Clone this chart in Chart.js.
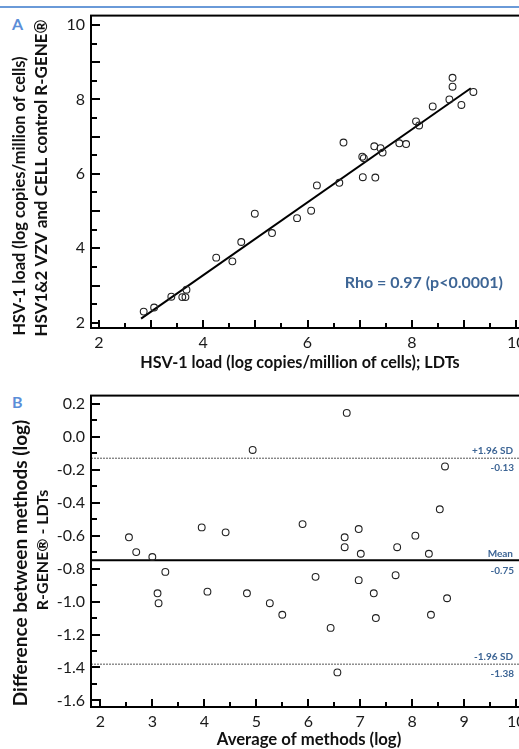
<!DOCTYPE html>
<html>
<head>
<meta charset="utf-8">
<script src="https://cdn.jsdelivr.net/npm/chart.js@4.4.1/dist/chart.umd.min.js"></script>
<style>
	html, body { margin: 0; padding: 0; background: #fff; }
	body { width: 519px; height: 749px; overflow: hidden; position: relative; font-family: Lato, sans-serif; }
	.rule { position: absolute; left: 0; top: 6px; width: 519px; height: 2px; background: #6a9ad8; }
	.panel-letter { position: absolute; left: 12px; font: bold 16px Lato, sans-serif; color: #5b8ed8; }
	canvas { position: absolute; left: 0; }
</style>
</head>
<body>
<div class="rule"></div>
<div class="panel-letter" style="top:14px">A</div>
<div class="panel-letter" style="top:392px">B</div>
<canvas id="chart-a" width="540" height="380" style="top:0"></canvas>
<canvas id="chart-b" width="540" height="369" style="top:380px"></canvas>
<script>
(function () {
	'use strict';

	// --- Data (panel A: correlation) ---

	const LDT_LOAD = [2.86, 3.06, 3.39, 3.60, 3.66, 3.68, 4.25, 4.56, 4.73, 4.99, 5.32, 5.80, 6.07, 6.18, 6.61, 6.69, 7.05,
		7.08, 7.06, 7.30, 7.28, 7.40, 7.44, 7.76, 7.89, 8.08, 8.14, 8.40, 8.72, 8.78, 8.78, 8.95, 9.18];
	const RGENE_LOAD = [2.30, 2.41, 2.70, 2.69, 2.69, 2.89, 3.75, 3.65, 4.17, 4.93, 4.41, 4.81, 5.01, 5.69, 5.76, 6.84, 6.46,
		6.42, 5.91, 5.90, 6.74, 6.69, 6.57, 6.82, 6.80, 7.41, 7.30, 7.81, 8.00, 8.58, 8.34, 7.85, 8.20];
	const FIT_X = [2.81, 9.13];
	const FIT_Y = [2.11, 8.30];
	const RHO_TEXT = 'Rho = 0.97 (p<0.0001)';

	// --- Data (panel B: Bland-Altman) ---

	const AVG_METHODS = [2.55, 2.69, 3.00, 3.25, 3.10, 3.12, 3.95, 4.06, 4.41, 4.82, 4.93, 6.74, 8.63, 8.53, 5.89, 6.97, 6.70,
		6.70, 7.01, 7.71, 8.06, 8.32, 6.14, 6.97, 7.68, 7.26, 8.67, 5.26, 5.50, 7.30, 8.36, 6.43, 6.56];
	const DIFF_METHODS = [-0.61, -0.70, -0.73, -0.82, -0.95, -1.01, -0.55, -0.94, -0.58, -0.95, -0.08, 0.145, -0.18, -0.44,
		-0.53, -0.56, -0.61, -0.67, -0.71, -0.67, -0.60, -0.71, -0.85, -0.87, -0.84, -0.95, -0.98, -1.01, -1.08, -1.10,
		-1.08, -1.16, -1.43];
	const MEAN_DIFF = -0.75;
	const UPPER_LOA = -0.13;
	const LOWER_LOA = -1.38;
	const LIMIT_LABELS = [
		{ value: UPPER_LOA, top: '+1.96 SD', bottom: '-0.13' },
		{ value: MEAN_DIFF, top: 'Mean', bottom: '-0.75' },
		{ value: LOWER_LOA, top: '-1.96 SD', bottom: '-1.38' },
	];

	// --- Axis ranges, steps and titles ---

	const A_X = { min: 1.85, max: 10.15, step: 0.5, major: 1, label: 2 };
	const A_Y = { min: 1.86, max: 10.25, step: 0.5, major: 1, label: 2 };
	const B_X = { min: 1.82, max: 10.15, step: 0.5, major: 1, label: 1 };
	const B_Y = { min: -1.64, max: 0.25, step: 0.1, major: 0.2, label: 0.2 };

	const A_TITLES = [
		{ text: 'HSV-1 load (log copies/million of cells); LDTs', x: 300, y: 363, size: 16.2 },
		{ text: 'HSV-1 load (log copies/million of cells)', x: 20, y: 196, size: 16.4, rotate: true },
		{ text: 'HSV1&2 VZV and CELL control R-GENE\u00ae', x: 42, y: 178, size: 17, rotate: true },
	];
	const B_TITLES = [
		{ text: 'Average of methods (log)', x: 309, y: 360, size: 16.7 },
		{ text: 'Difference between methods (log)', x: 21, y: 183, size: 19, rotate: true },
		{ text: 'R-GENE\u00ae - LDTs', x: 43, y: 170, size: 16, rotate: true },
	];

	const FONT = 'Lato, "Open Sans", sans-serif';
	const NOTE_COLOR = '#3d6595';

	// --- Helpers ---

	function toPoints(xs, ys) {
		return xs.map((x, i) => ({ x: x, y: ys[i] }));
	}

	function isMultiple(v, step) {
		const r = v / step;
		return Math.abs(r - Math.round(r)) < 1e-6;
	}

	function stepValues(range) {
		const out = [];
		const first = Math.ceil(range.min / range.step - 1e-9);
		const last = Math.floor(range.max / range.step + 1e-9);
		for (let i = first; i <= last; i++) {
			out.push(Math.round(i * range.step * 1000) / 1000);
		}
		return out;
	}

	function scaleOptions(range, labelFn, padding) {
		return {
			type: 'linear',
			min: range.min,
			max: range.max,
			border: { color: '#000', width: 2 },
			grid: { drawOnChartArea: false, drawTicks: false },
			ticks: {
				stepSize: range.step,
				includeBounds: false,
				autoSkip: false,
				maxRotation: 0,
				padding: padding,
				color: '#1a1a1a',
				font: { family: FONT, size: 16 },
				callback: labelFn,
			},
			title: { display: false },
		};
	}

	// --- Plugins ---

	// frame around the plot area
	const framePlugin = {
		id: 'frame',
		afterDraw(chart) {
			const a = chart.chartArea;
			const ctx = chart.ctx;
			ctx.save();
			ctx.strokeStyle = '#000';
			ctx.lineWidth = 2;
			ctx.strokeRect(a.left, a.top, a.right - a.left, a.bottom - a.top);
			ctx.restore();
		},
	};

	// inward tick marks, longer on whole units
	const tickMarksPlugin = {
		id: 'tickMarks',
		afterDraw(chart, args, opts) {
			const a = chart.chartArea;
			const xs = chart.scales.x;
			const ys = chart.scales.y;
			const ctx = chart.ctx;
			ctx.save();
			ctx.strokeStyle = '#000';
			ctx.lineWidth = 2;
			ctx.beginPath();
			stepValues(opts.y).forEach(v => {
				const py = Math.round(ys.getPixelForValue(v));
				const len = isMultiple(v, opts.y.major) ? 9 : 6;
				ctx.moveTo(a.left, py);
				ctx.lineTo(a.left + len, py);
			});
			stepValues(opts.x).forEach(v => {
				const px = Math.round(xs.getPixelForValue(v));
				const len = isMultiple(v, opts.x.major) ? 8 : 5;
				ctx.moveTo(px, a.bottom);
				ctx.lineTo(px, a.bottom - len);
			});
			ctx.stroke();
			ctx.restore();
		},
	};

	const titlesPlugin = {
		id: 'titles',
		afterDraw(chart, args, opts) {
			const ctx = chart.ctx;
			ctx.save();
			ctx.fillStyle = '#111';
			ctx.textAlign = 'center';
			ctx.textBaseline = 'middle';
			opts.items.forEach(t => {
				ctx.font = 'bold ' + t.size + 'px ' + FONT;
				ctx.save();
				ctx.translate(t.x, t.y);
				if (t.rotate) ctx.rotate(-Math.PI / 2);
				ctx.fillText(t.text, 0, 0);
				ctx.restore();
			});
			ctx.restore();
		},
	};

	const rhoPlugin = {
		id: 'rho',
		afterDraw(chart) {
			const a = chart.chartArea;
			const ctx = chart.ctx;
			ctx.save();
			ctx.font = 'bold 16px ' + FONT;
			ctx.fillStyle = NOTE_COLOR;
			ctx.textAlign = 'right';
			ctx.textBaseline = 'middle';
			ctx.fillText(RHO_TEXT, a.right - 21, a.bottom - 45);
			ctx.restore();
		},
	};

	const limitsPlugin = {
		id: 'limits',
		afterDraw(chart) {
			const a = chart.chartArea;
			const y = chart.scales.y;
			const ctx = chart.ctx;
			ctx.save();
			ctx.font = 'bold 10px ' + FONT;
			ctx.fillStyle = NOTE_COLOR;
			ctx.textAlign = 'right';
			ctx.textBaseline = 'middle';
			LIMIT_LABELS.forEach(l => {
				const py = y.getPixelForValue(l.value);
				ctx.fillText(l.top, a.right - 11, py - 7);
				ctx.fillText(l.bottom, a.right - 10, py + 10);
			});
			ctx.restore();
		},
	};

	// --- Shared styles ---

	const pointStyle = {
		type: 'scatter',
		pointRadius: 3.4,
		pointBorderWidth: 1.1,
		pointBorderColor: '#222',
		pointBackgroundColor: 'rgba(0,0,0,0)',
		showLine: false,
	};

	function hLine(value, range, opts) {
		return Object.assign({
			type: 'line',
			data: [{ x: range.min, y: value }, { x: range.max, y: value }],
			pointRadius: 0,
			fill: false,
		}, opts);
	}

	function baseOptions(padding, titles, xr, yr) {
		return {
			responsive: false,
			animation: false,
			events: [],
			layout: { padding: padding },
			plugins: {
				legend: { display: false },
				tooltip: { enabled: false },
				titles: { items: titles },
				tickMarks: { x: xr, y: yr },
			},
		};
	}

	// --- Panel A ---

	const optsA = baseOptions({ top: 15, left: 0, right: 16, bottom: 4 }, A_TITLES, A_X, A_Y);
	optsA.scales = {
		x: Object.assign(scaleOptions(A_X, v => isMultiple(v, A_X.label) ? String(Math.round(v)) : '', 5),
			{ position: 'bottom', afterFit: s => { s.height = 48; } }),
		y: Object.assign(scaleOptions(A_Y, v => isMultiple(v, A_Y.label) ? String(Math.round(v)) : '', 6),
			{ position: 'left', afterFit: s => { s.width = 91; } }),
	};

	new Chart(document.getElementById('chart-a'), {
		data: {
			datasets: [
				Object.assign({ data: toPoints(LDT_LOAD, RGENE_LOAD) }, pointStyle),
				{
					type: 'line',
					data: toPoints(FIT_X, FIT_Y),
					borderColor: '#000',
					borderWidth: 2,
					pointRadius: 0,
					fill: false,
				},
			],
		},
		options: optsA,
		plugins: [framePlugin, tickMarksPlugin, titlesPlugin, rhoPlugin],
	});

	// --- Panel B ---

	const optsB = baseOptions({ top: 10, left: 0, right: 16, bottom: 0 }, B_TITLES, B_X, B_Y);
	optsB.scales = {
		x: Object.assign(scaleOptions(B_X, v => isMultiple(v, B_X.label) ? String(Math.round(v)) : '', 5),
			{ position: 'bottom', afterFit: s => { s.height = 42; } }),
		y: Object.assign(scaleOptions(B_Y, v => isMultiple(v, B_Y.label) ? v.toFixed(1).replace('-0.0', '0.0') : '', 6),
			{ position: 'left', afterFit: s => { s.width = 91; } }),
	};

	new Chart(document.getElementById('chart-b'), {
		data: {
			datasets: [
				Object.assign({ data: toPoints(AVG_METHODS, DIFF_METHODS) }, pointStyle),
				hLine(MEAN_DIFF, B_X, { borderColor: '#000', borderWidth: 2 }),
				hLine(UPPER_LOA, B_X, { borderColor: '#555', borderWidth: 1, borderDash: [2, 1] }),
				hLine(LOWER_LOA, B_X, { borderColor: '#555', borderWidth: 1, borderDash: [2, 1] }),
			],
		},
		options: optsB,
		plugins: [framePlugin, tickMarksPlugin, titlesPlugin, limitsPlugin],
	});
})();
</script>
</body>
</html>
